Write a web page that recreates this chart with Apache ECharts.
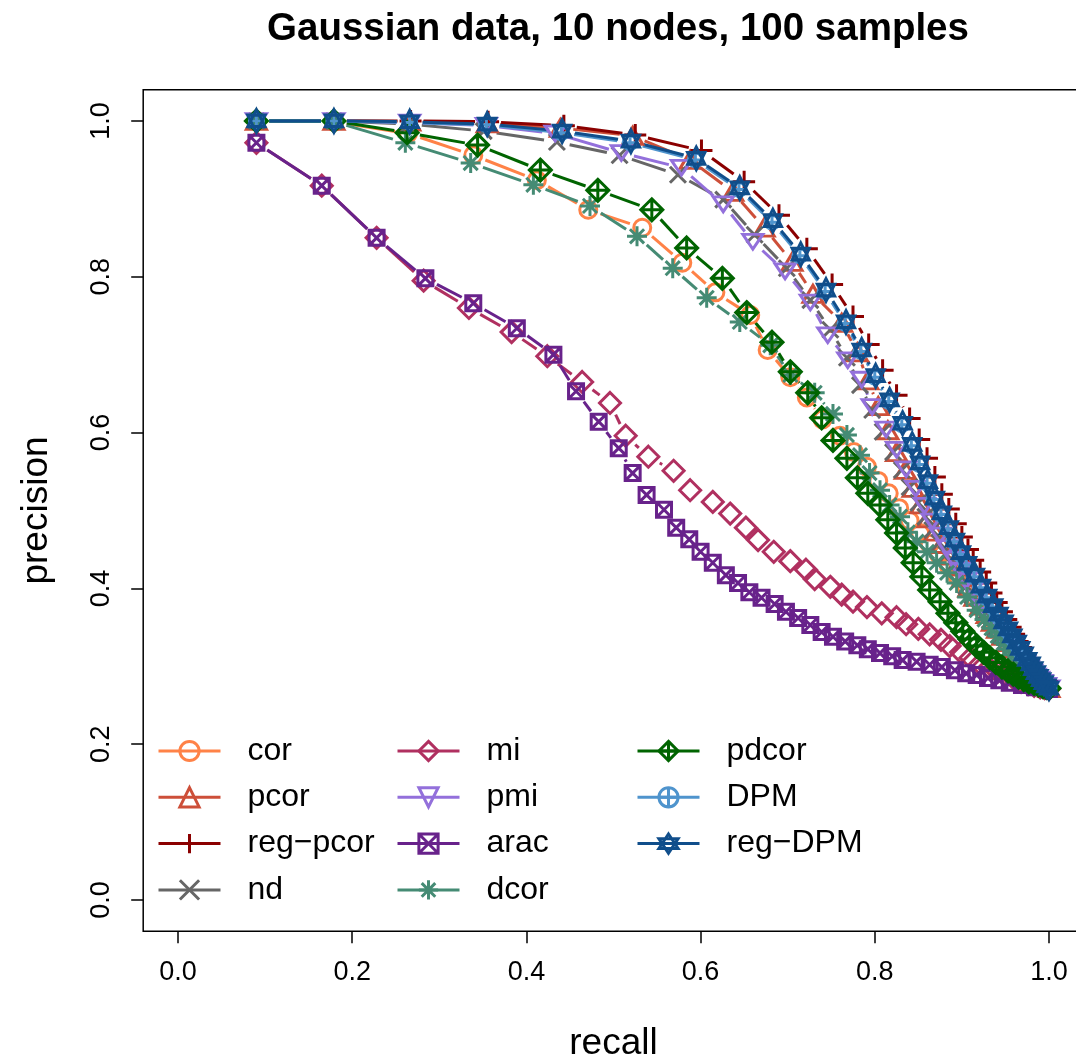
<!DOCTYPE html>
<html><head><meta charset="utf-8">
<script src="https://cdn.jsdelivr.net/npm/echarts/dist/echarts.min.js"></script>
<style>html,body{margin:0;padding:0;background:#fff}#c{width:1076px;height:1058px}</style>
</head><body><div id="c"></div>
<script>
// ---------------- data ----------------
const methods = ['cor','pcor','reg\u2212pcor','nd','mi','pmi','arac','dcor','pdcor','DPM','reg\u2212DPM'];
const xTicks = [0.0, 0.2, 0.4, 0.6, 0.8, 1.0];
const yTicks = [0.0, 0.2, 0.4, 0.6, 0.8, 1.0];

const corRecall = [0.090,0.179,0.264,0.339,0.412,0.471,0.533,0.579,0.617,0.657,0.677,0.703,0.722,0.740,0.760,0.776,0.791,0.804,0.816,0.828,0.840,0.852,0.863,0.874,0.885,0.895,0.905,0.914,0.923,0.931,0.939,0.946,0.953,0.959,0.965,0.970,0.975,0.980,0.984,0.988,0.991,0.994,0.996,0.998,1.000];
const corPrecision = [1.000,0.999,0.984,0.956,0.924,0.886,0.863,0.818,0.780,0.751,0.706,0.671,0.645,0.617,0.596,0.575,0.556,0.538,0.522,0.503,0.487,0.471,0.457,0.443,0.429,0.415,0.402,0.389,0.377,0.366,0.355,0.345,0.336,0.327,0.319,0.311,0.304,0.298,0.292,0.287,0.283,0.279,0.276,0.274,0.272];

const pcorRecall = [0.090,0.179,0.266,0.355,0.439,0.522,0.588,0.637,0.673,0.705,0.729,0.762,0.780,0.792,0.804,0.815,0.825,0.835,0.844,0.853,0.861,0.869,0.877,0.885,0.893,0.901,0.908,0.915,0.922,0.929,0.935,0.941,0.947,0.953,0.958,0.963,0.968,0.973,0.977,0.981,0.985,0.989,0.993,0.997,1.000];
const pcorPrecision = [1.000,1.000,0.999,0.997,0.991,0.981,0.950,0.909,0.863,0.819,0.778,0.741,0.703,0.667,0.634,0.603,0.575,0.552,0.529,0.508,0.490,0.473,0.457,0.442,0.428,0.414,0.401,0.389,0.378,0.367,0.357,0.348,0.339,0.331,0.323,0.316,0.309,0.303,0.297,0.292,0.287,0.283,0.279,0.275,0.272];

const regPcorRecall = [0.090,0.179,0.267,0.356,0.443,0.525,0.601,0.650,0.690,0.722,0.751,0.775,0.793,0.809,0.825,0.840,0.851,0.860,0.869,0.877,0.885,0.893,0.900,0.907,0.913,0.921,0.928,0.934,0.940,0.946,0.951,0.956,0.960,0.964,0.968,0.972,0.976,0.979,0.982,0.985,0.988,0.991,0.994,0.997,1.000];
const regPcorPrecision = [1.000,1.000,1.000,0.999,0.994,0.982,0.962,0.922,0.879,0.836,0.790,0.749,0.713,0.680,0.648,0.618,0.591,0.567,0.543,0.521,0.502,0.483,0.466,0.450,0.436,0.421,0.407,0.394,0.382,0.370,0.360,0.350,0.341,0.332,0.324,0.316,0.309,0.303,0.297,0.292,0.287,0.283,0.279,0.275,0.272];

const ndRecall = [0.090,0.179,0.265,0.351,0.435,0.507,0.574,0.626,0.662,0.699,0.726,0.749,0.768,0.783,0.797,0.809,0.821,0.831,0.840,0.850,0.858,0.866,0.874,0.882,0.890,0.898,0.905,0.912,0.919,0.926,0.932,0.938,0.944,0.950,0.956,0.961,0.966,0.971,0.976,0.980,0.984,0.988,0.992,0.996,1.000];
const ndPrecision = [1.000,1.000,0.996,0.987,0.973,0.956,0.931,0.899,0.854,0.811,0.770,0.732,0.696,0.661,0.629,0.601,0.575,0.552,0.530,0.510,0.492,0.475,0.459,0.444,0.430,0.416,0.403,0.391,0.380,0.369,0.359,0.349,0.340,0.332,0.324,0.317,0.310,0.304,0.298,0.293,0.288,0.284,0.279,0.275,0.272];

const miRecall = [0.090,0.165,0.228,0.282,0.334,0.383,0.424,0.464,0.496,0.514,0.540,0.569,0.588,0.614,0.634,0.652,0.666,0.684,0.703,0.721,0.731,0.749,0.762,0.775,0.791,0.808,0.825,0.836,0.850,0.863,0.876,0.886,0.899,0.910,0.921,0.931,0.941,0.951,0.960,0.968,0.976,0.983,0.990,0.995,1.000];
const miPrecision = [0.972,0.917,0.850,0.795,0.760,0.729,0.698,0.665,0.638,0.596,0.569,0.551,0.526,0.511,0.496,0.478,0.462,0.447,0.435,0.424,0.412,0.402,0.392,0.383,0.376,0.368,0.363,0.354,0.348,0.341,0.334,0.326,0.318,0.311,0.303,0.298,0.293,0.288,0.284,0.280,0.277,0.275,0.273,0.272,0.271];

const pmiRecall = [0.090,0.179,0.266,0.354,0.433,0.509,0.578,0.626,0.660,0.697,0.726,0.746,0.769,0.785,0.797,0.813,0.825,0.836,0.847,0.857,0.866,0.875,0.883,0.891,0.898,0.905,0.912,0.918,0.924,0.930,0.936,0.941,0.947,0.952,0.957,0.962,0.967,0.972,0.976,0.980,0.984,0.988,0.992,0.996,1.000];
const pmiPrecision = [1.000,1.000,0.998,0.994,0.984,0.959,0.940,0.893,0.845,0.807,0.767,0.725,0.693,0.668,0.633,0.604,0.578,0.553,0.528,0.506,0.486,0.468,0.452,0.437,0.423,0.410,0.398,0.386,0.375,0.365,0.355,0.346,0.338,0.330,0.322,0.315,0.309,0.303,0.297,0.292,0.287,0.283,0.279,0.275,0.272];

const aracRecall = [0.090,0.165,0.228,0.284,0.339,0.389,0.431,0.457,0.483,0.506,0.522,0.538,0.558,0.572,0.587,0.600,0.614,0.629,0.643,0.656,0.670,0.685,0.698,0.712,0.726,0.739,0.752,0.766,0.780,0.792,0.806,0.820,0.832,0.848,0.863,0.877,0.892,0.905,0.917,0.930,0.943,0.955,0.969,0.984,1.000];
const aracPrecision = [0.972,0.917,0.850,0.798,0.766,0.734,0.700,0.653,0.614,0.580,0.548,0.520,0.501,0.478,0.463,0.447,0.433,0.417,0.407,0.395,0.388,0.380,0.370,0.362,0.353,0.344,0.338,0.332,0.327,0.322,0.317,0.313,0.308,0.306,0.302,0.299,0.295,0.291,0.289,0.285,0.282,0.279,0.276,0.273,0.271];

const dcorRecall = [0.090,0.179,0.261,0.336,0.408,0.473,0.527,0.568,0.607,0.645,0.680,0.703,0.731,0.752,0.768,0.783,0.794,0.806,0.817,0.829,0.838,0.848,0.860,0.871,0.883,0.894,0.906,0.917,0.926,0.934,0.941,0.948,0.954,0.960,0.965,0.970,0.975,0.979,0.983,0.987,0.990,0.993,0.996,0.998,1.000];
const dcorPrecision = [1.000,0.999,0.972,0.946,0.918,0.891,0.852,0.811,0.773,0.742,0.712,0.674,0.651,0.624,0.597,0.571,0.548,0.526,0.507,0.492,0.472,0.460,0.447,0.433,0.420,0.407,0.389,0.372,0.360,0.349,0.339,0.330,0.322,0.315,0.308,0.302,0.296,0.291,0.287,0.283,0.280,0.277,0.275,0.273,0.272];

const pdcorRecall = [0.090,0.179,0.263,0.344,0.416,0.482,0.544,0.584,0.625,0.653,0.682,0.703,0.723,0.739,0.752,0.768,0.780,0.792,0.806,0.815,0.825,0.835,0.844,0.854,0.863,0.875,0.884,0.893,0.901,0.909,0.917,0.925,0.932,0.939,0.946,0.953,0.959,0.965,0.971,0.977,0.983,0.988,0.993,0.997,1.000];
const pdcorPrecision = [1.000,1.000,0.985,0.969,0.937,0.911,0.886,0.837,0.798,0.754,0.716,0.678,0.651,0.619,0.590,0.567,0.542,0.522,0.507,0.488,0.471,0.452,0.433,0.415,0.398,0.383,0.368,0.356,0.345,0.335,0.326,0.318,0.311,0.305,0.299,0.294,0.290,0.286,0.283,0.280,0.278,0.276,0.274,0.273,0.272];

const dpmRecall = [0.090,0.179,0.266,0.354,0.440,0.519,0.594,0.644,0.682,0.714,0.743,0.766,0.784,0.800,0.816,0.831,0.842,0.851,0.860,0.868,0.876,0.884,0.891,0.898,0.905,0.914,0.921,0.928,0.935,0.941,0.947,0.952,0.957,0.962,0.966,0.970,0.974,0.978,0.981,0.984,0.987,0.990,0.993,0.996,1.000];
const dpmPrecision = [1.000,1.000,0.998,0.995,0.985,0.972,0.950,0.912,0.870,0.827,0.781,0.740,0.704,0.671,0.640,0.610,0.583,0.559,0.535,0.514,0.495,0.476,0.460,0.444,0.430,0.415,0.401,0.388,0.376,0.365,0.355,0.346,0.337,0.329,0.321,0.314,0.308,0.302,0.296,0.291,0.286,0.282,0.278,0.275,0.272];

const regDpmRecall = [0.090,0.179,0.266,0.355,0.441,0.520,0.595,0.645,0.683,0.715,0.744,0.767,0.785,0.801,0.817,0.832,0.843,0.852,0.861,0.869,0.877,0.885,0.892,0.899,0.906,0.915,0.922,0.929,0.936,0.942,0.948,0.953,0.958,0.963,0.967,0.971,0.975,0.979,0.982,0.985,0.988,0.991,0.994,0.997,1.000];
const regDpmPrecision = [1.000,1.000,0.999,0.996,0.987,0.974,0.952,0.914,0.872,0.829,0.783,0.742,0.706,0.673,0.642,0.612,0.585,0.561,0.537,0.516,0.497,0.478,0.462,0.446,0.432,0.417,0.403,0.390,0.378,0.367,0.357,0.348,0.339,0.331,0.323,0.316,0.309,0.303,0.297,0.292,0.287,0.283,0.279,0.275,0.272];

const recallSets = [corRecall,pcorRecall,regPcorRecall,ndRecall,miRecall,pmiRecall,aracRecall,dcorRecall,pdcorRecall,dpmRecall,regDpmRecall];
const precisionSets = [corPrecision,pcorPrecision,regPcorPrecision,ndPrecision,miPrecision,pmiPrecision,aracPrecision,dcorPrecision,pdcorPrecision,dpmPrecision,regDpmPrecision];

// ---------------- styles ----------------
const colors = ['#FF8247','#CD4F39','#8B0000','#666666','#B03060','#9370DB','#68228B','#458B74','#006400','#4F94CD','#104E8B'];
const symbols = [
  'circle',
  'triangle',
  'path://M10,0L10,20M0,10L20,10',
  'path://M0,0L20,20M20,0L0,20',
  'diamond',
  'path://M0,0L20,0L10,17.32Z',
  'path://M0,0L20,0L20,20L0,20ZM0,0L20,20M20,0L0,20',
  'path://M10,0L10,20M0,10L20,10M2.93,2.93L17.07,17.07M17.07,2.93L2.93,17.07',
  'path://M10,0L20,10L10,20L0,10ZM10,0L10,20M0,10L20,10',
  'path://M20,10A10,10,0,1,1,0,10A10,10,0,1,1,20,10ZM10,0L10,20M0,10L20,10',
  'path://M10,0L18.66,15L1.34,15ZM10,20L18.66,5L1.34,5Z'
];
const symbolSizes = [17,[20,17],22,16,21,[20,17],15,20,22,14,[20,23]];
const LW = 3;
const GAP = 13;
const FONT = 'Liberation Sans, Arial, Helvetica, sans-serif';

function gapRenderer(color) {
  return function (params, api) {
    const p1 = api.coord([api.value(0), api.value(1)]);
    const p2 = api.coord([api.value(2), api.value(3)]);
    const dx = p2[0] - p1[0], dy = p2[1] - p1[1];
    const d = Math.sqrt(dx * dx + dy * dy);
    if (d <= 2 * GAP) return null;
    const ux = dx / d, uy = dy / d;
    return {
      type: 'line',
      shape: { x1: p1[0] + ux * GAP, y1: p1[1] + uy * GAP, x2: p2[0] - ux * GAP, y2: p2[1] - uy * GAP },
      style: { stroke: color, lineWidth: LW, lineCap: 'butt' }
    };
  };
}

const series = [];
methods.forEach(function (m, i) {
  const xs = recallSets[i], ys = precisionSets[i];
  const segs = [];
  for (let k = 0; k < xs.length - 1; k++) segs.push([xs[k], ys[k], xs[k + 1], ys[k + 1]]);
  series.push({
    type: 'custom', name: m + ' segments', data: segs, z: 2, silent: true, clip: true,
    encode: { x: [0, 2], y: [1, 3] },
    renderItem: gapRenderer(colors[i])
  });
  series.push({
    type: 'line', name: m, z: 2, silent: true,
    data: xs.map(function (x, k) { return [x, ys[k]]; }),
    symbol: symbols[i], symbolSize: symbolSizes[i], symbolKeepAspect: true,
    showSymbol: true,
    itemStyle: { color: 'rgba(0,0,0,0)', borderColor: colors[i], borderWidth: LW },
    lineStyle: { opacity: 0, width: 1, color: colors[i] },
    emphasis: { disabled: true }
  });
});

function legendItems(idx) {
  return idx.map(function (i) {
    return {
      name: methods[i],
      itemStyle: { color: 'rgba(0,0,0,0)', borderColor: colors[i], borderWidth: LW },
      lineStyle: { color: colors[i], width: LW, opacity: 1, type: 'solid' }
    };
  });
}
const legendCommon = {
  orient: 'vertical', top: 729, itemWidth: 62, itemHeight: 24, itemGap: 12.3,
  selectedMode: false,
  textStyle: { fontSize: 32, color: '#000', fontFamily: FONT, lineHeight: 34, padding: [0, 0, 0, 22] }
};

const option = {
  animation: false,
  backgroundColor: '#fff',
  title: {
    text: 'Gaussian data, 10 nodes, 100 samples',
    left: 613, top: 5, textAlign: 'center',
    textStyle: { fontSize: 38.5, fontWeight: 'bold', color: '#000', fontFamily: FONT }
  },
  grid: { left: 143.2, right: -7.8, top: 89.8, bottom: 126.8, outerBoundsMode: 'none', containLabel: false,
    show: true, borderColor: '#000', borderWidth: 1.5, backgroundColor: 'transparent' },
  xAxis: {
    type: 'value', min: -0.04, max: 1.04,
    name: 'recall', nameLocation: 'middle', nameGap: 94,
    nameTextStyle: { fontSize: 37, color: '#000', fontFamily: FONT },
    axisLine: { show: false, onZero: false },
    splitLine: { show: false },
    axisTick: { show: true, inside: false, customValues: xTicks, length: 12, lineStyle: { color: '#000', width: 1.5 } },
    axisLabel: { customValues: xTicks, fontSize: 27, color: '#000', fontFamily: FONT, margin: 28,
      formatter: function (v) { return v.toFixed(1); } }
  },
  yAxis: {
    type: 'value', min: -0.04, max: 1.04,
    name: 'precision', nameLocation: 'middle', nameGap: 88, nameRotate: 90,
    nameTextStyle: { fontSize: 37, color: '#000', fontFamily: FONT },
    axisLine: { show: false, onZero: false },
    splitLine: { show: false },
    axisTick: { show: true, inside: false, customValues: yTicks, length: 12, lineStyle: { color: '#000', width: 1.5 } },
    axisLabel: { customValues: yTicks, fontSize: 27, color: '#000', fontFamily: FONT, margin: 28, rotate: 90,
      formatter: function (v) { return v.toFixed(1); } }
  },
  legend: [
    Object.assign({ left: 152, data: legendItems([0, 1, 2, 3]) }, legendCommon),
    Object.assign({ left: 391, data: legendItems([4, 5, 6, 7]) }, legendCommon),
    Object.assign({ left: 631, data: legendItems([8, 9, 10]) }, legendCommon)
  ],
  series: series
};

const chart = echarts.init(document.getElementById('c'), null, { renderer: 'canvas' });
chart.setOption(option);
</script></body></html>
